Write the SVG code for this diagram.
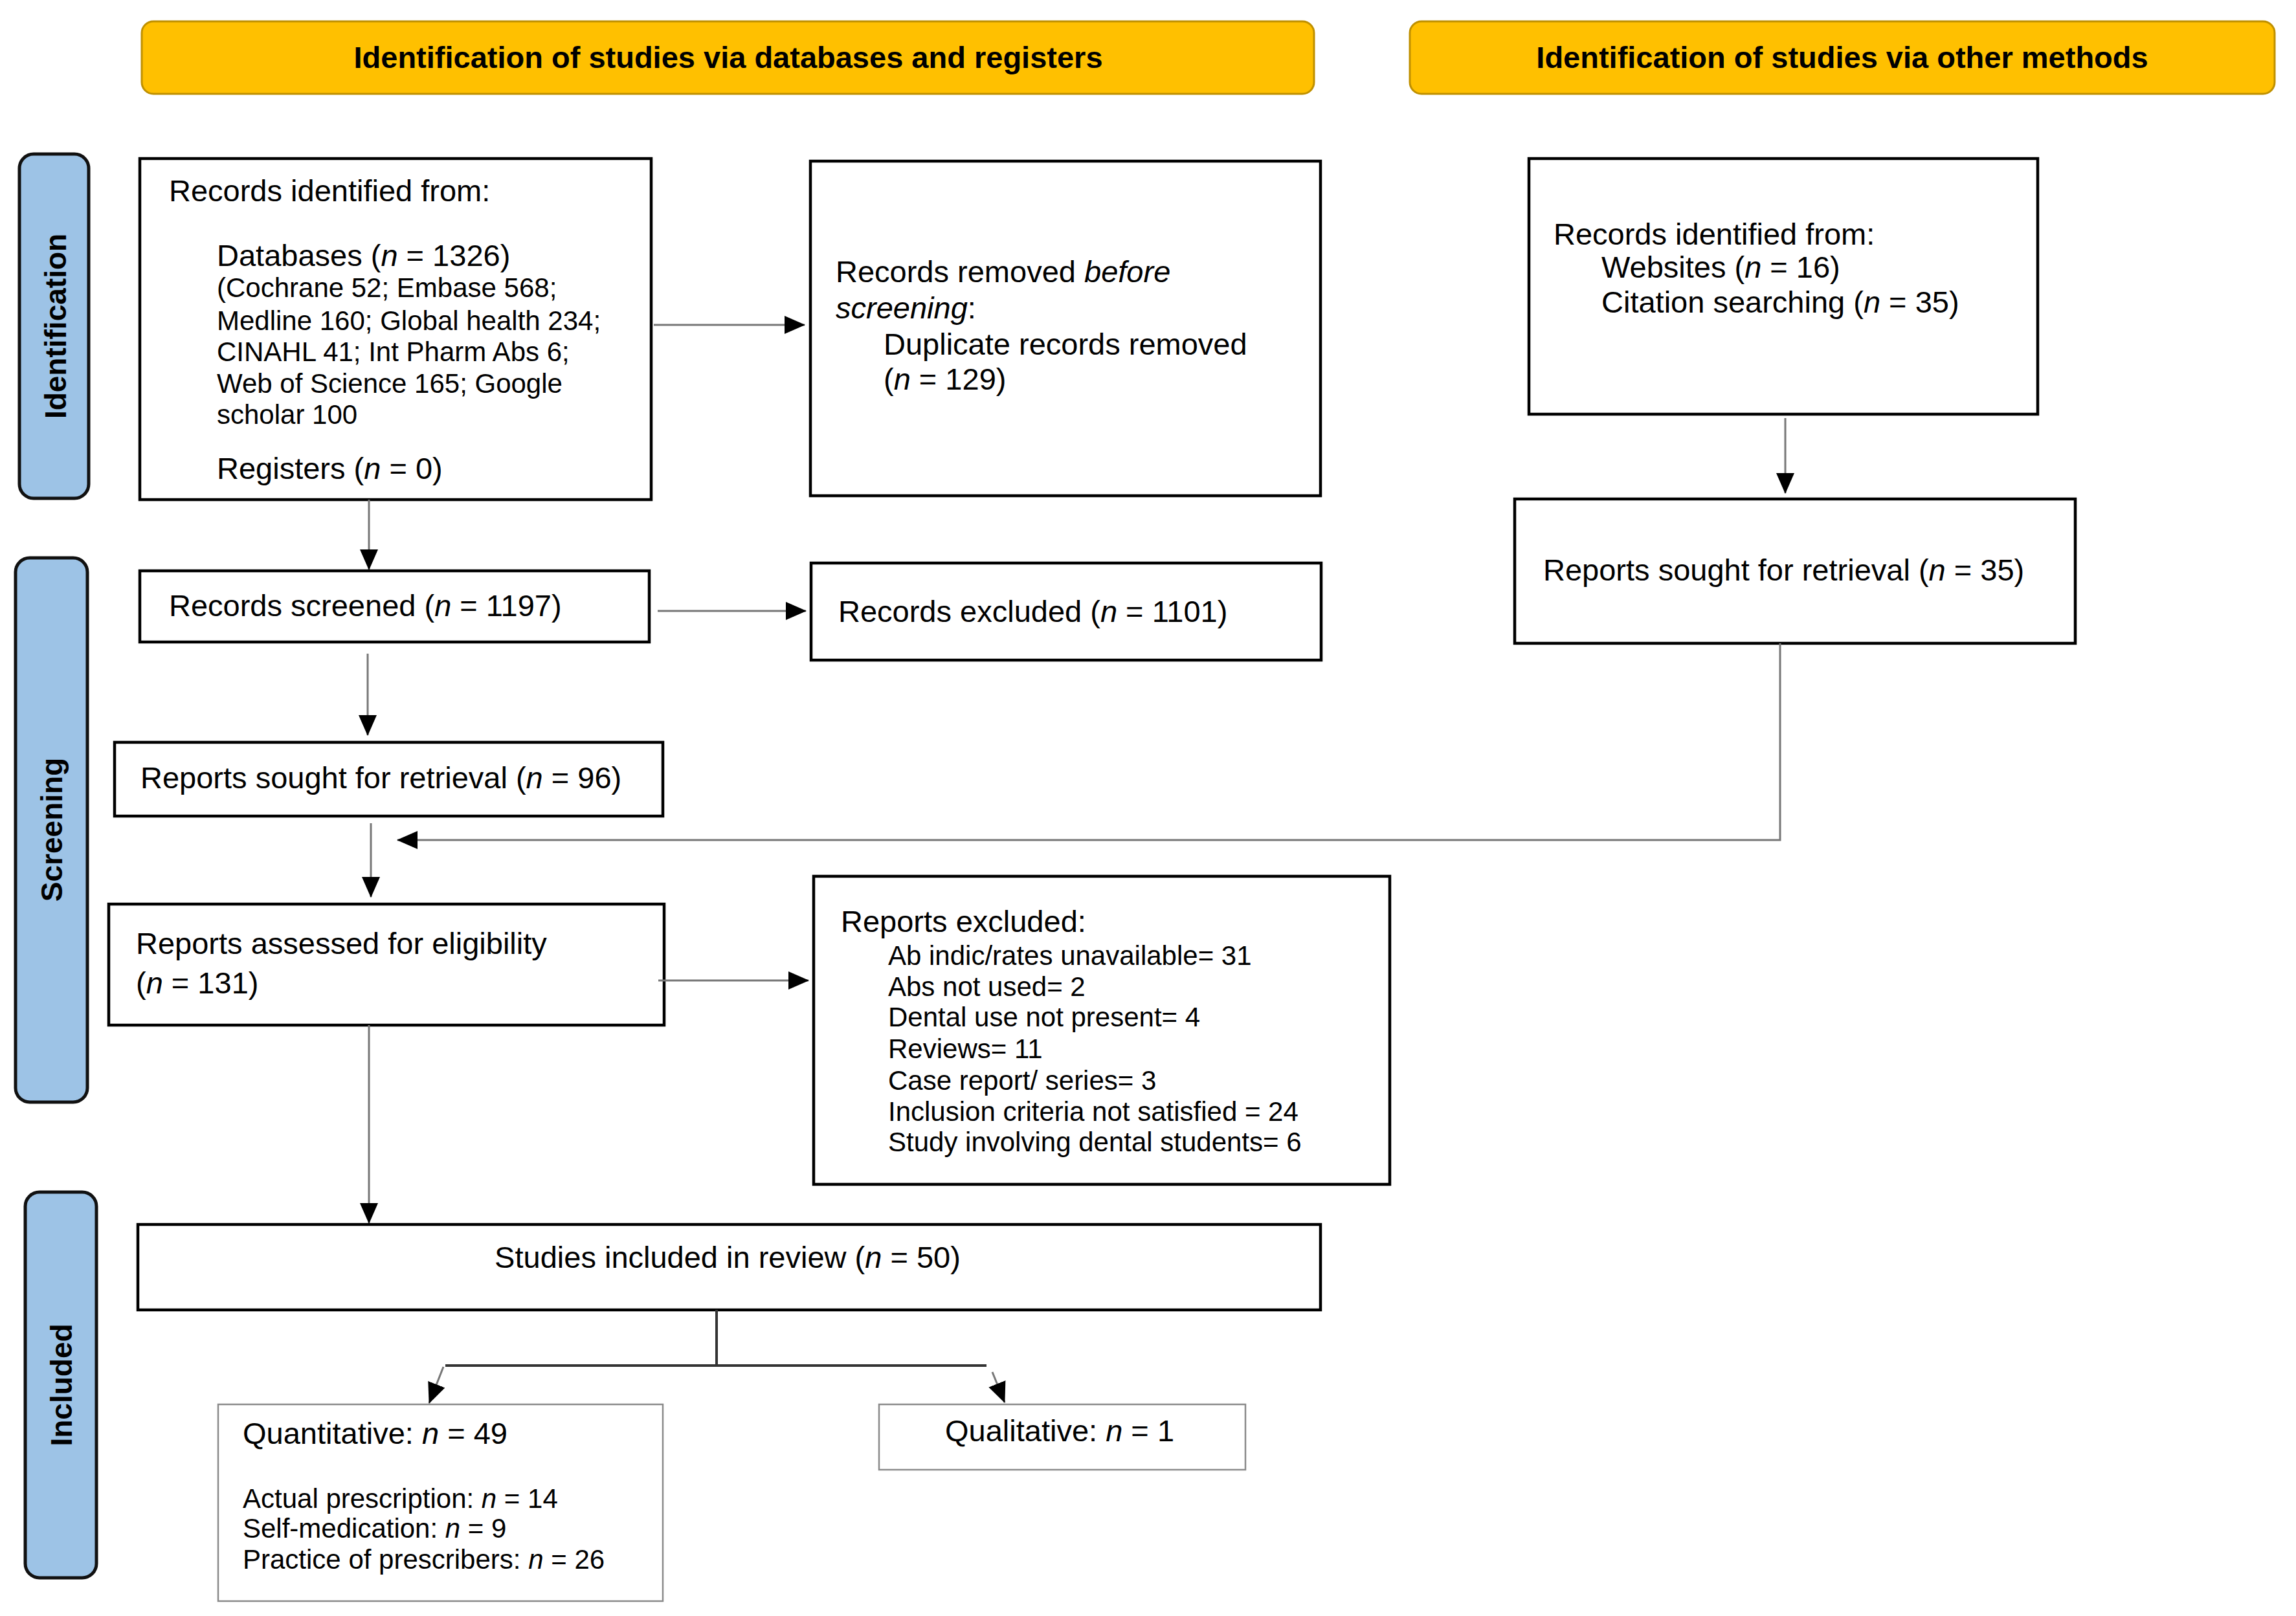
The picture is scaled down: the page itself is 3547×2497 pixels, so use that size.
<svg xmlns="http://www.w3.org/2000/svg" width="3547" height="2497" viewBox="0 0 3547 2497">
<defs>
<marker id="ah" markerUnits="userSpaceOnUse" markerWidth="32" markerHeight="28" refX="31" refY="14" orient="auto">
<path d="M0,0 L32,14 L0,28 Z" fill="#000"/>
</marker>
<style>
text{font-family:"Liberation Sans",Arial,Helvetica,sans-serif;fill:#000}
.t47{font-size:47px}
.t42{font-size:42px}
.hd{font-size:47px;font-weight:bold;text-anchor:middle}
.side{font-size:46px;font-weight:bold;text-anchor:middle}
.i{font-style:italic}
.hdr{fill:#FFC000;stroke:#BF9000;stroke-width:3}
.lab{fill:#9DC3E6;stroke:#111;stroke-width:5}
.box{fill:#fff;stroke:#000;stroke-width:4.5}
.tbox{fill:#fff;stroke:#8a8a8a;stroke-width:2.5}
.con{fill:none;stroke:#777;stroke-width:3}
.br{fill:none;stroke:#333;stroke-width:4}
</style>
</defs>
<rect width="3547" height="2497" fill="#fff"/>

<g id="header-databases">
<rect class="hdr" x="219" y="33" width="1811" height="112" rx="18"/>
<text class="hd" x="1125" y="105">Identification of studies via databases and registers</text>
</g>
<g id="header-other">
<rect class="hdr" x="2178" y="33" width="1336" height="112" rx="18"/>
<text class="hd" x="2846" y="105">Identification of studies via other methods</text>
</g>

<g id="label-identification">
<rect class="lab" x="30" y="238" width="107" height="532" rx="22"/>
<text class="side" transform="translate(102,504) rotate(-90)">Identification</text>
</g>
<g id="label-screening">
<rect class="lab" x="24" y="862" width="111" height="841" rx="22"/>
<text class="side" transform="translate(96,1282) rotate(-90)">Screening</text>
</g>
<g id="label-included">
<rect class="lab" x="39" y="1842" width="110" height="596" rx="22"/>
<text class="side" transform="translate(111,2140) rotate(-90)">Included</text>
</g>

<g id="records-identified">
<rect class="box" x="216" y="245" width="790" height="527"/>
<text class="t47" x="261" y="311">Records identified from:</text>
<text class="t47" x="335" y="411">Databases (<tspan class="i">n</tspan> = 1326)</text>
<text class="t42" x="335" y="459">(Cochrane 52; Embase 568;</text>
<text class="t42" x="335" y="510">Medline 160; Global health 234;</text>
<text class="t42" x="335" y="558">CINAHL 41; Int Pharm Abs 6;</text>
<text class="t42" x="335" y="607">Web of Science 165; Google</text>
<text class="t42" x="335" y="655">scholar 100</text>
<text class="t47" x="335" y="740">Registers (<tspan class="i">n</tspan> = 0)</text>
</g>

<g id="records-removed">
<rect class="box" x="1252" y="249" width="788" height="517"/>
<text class="t47" x="1291" y="436">Records removed <tspan class="i">before</tspan></text>
<text class="t47" x="1291" y="492"><tspan class="i">screening</tspan>:</text>
<text class="t47" x="1365" y="548">Duplicate records removed</text>
<text class="t47" x="1365" y="602">(<tspan class="i">n</tspan> = 129)</text>
</g>

<g id="records-other">
<rect class="box" x="2362" y="245" width="786" height="395"/>
<text class="t47" x="2400" y="378">Records identified from:</text>
<text class="t47" x="2474" y="429">Websites (<tspan class="i">n</tspan> = 16)</text>
<text class="t47" x="2474" y="483">Citation searching (<tspan class="i">n</tspan> = 35)</text>
</g>

<g id="reports-sought-other">
<rect class="box" x="2340" y="771" width="866" height="223"/>
<text class="t47" x="2384" y="897">Reports sought for retrieval (<tspan class="i">n</tspan> = 35)</text>
</g>

<g id="records-screened">
<rect class="box" x="216" y="882" width="787" height="110"/>
<text class="t47" x="261" y="952">Records screened (<tspan class="i">n</tspan> = 1197)</text>
</g>

<g id="records-excluded">
<rect class="box" x="1253" y="870" width="788" height="150"/>
<text class="t47" x="1295" y="961">Records excluded (<tspan class="i">n</tspan> = 1101)</text>
</g>

<g id="reports-sought">
<rect class="box" x="177" y="1147" width="847" height="114"/>
<text class="t47" x="217" y="1218">Reports sought for retrieval (<tspan class="i">n</tspan> = 96)</text>
</g>

<g id="reports-assessed">
<rect class="box" x="168" y="1397" width="858" height="187"/>
<text class="t47" x="210" y="1474">Reports assessed for eligibility</text>
<text class="t47" x="210" y="1535">(<tspan class="i">n</tspan> = 131)</text>
</g>

<g id="reports-excluded">
<rect class="box" x="1257" y="1354" width="890" height="476"/>
<text class="t47" x="1299" y="1440">Reports excluded:</text>
<text class="t42" x="1372" y="1491">Ab indic/rates unavailable= 31</text>
<text class="t42" x="1372" y="1539">Abs not used= 2</text>
<text class="t42" x="1372" y="1586">Dental use not present= 4</text>
<text class="t42" x="1372" y="1635">Reviews= 11</text>
<text class="t42" x="1372" y="1684">Case report/ series= 3</text>
<text class="t42" x="1372" y="1732">Inclusion criteria not satisfied = 24</text>
<text class="t42" x="1372" y="1779">Study involving dental students= 6</text>
</g>

<g id="studies-included">
<rect class="box" x="213" y="1892" width="1827" height="132"/>
<text class="t47" x="1124" y="1959" text-anchor="middle">Studies included in review (<tspan class="i">n</tspan> = 50)</text>
</g>

<g id="quantitative">
<rect class="tbox" x="337" y="2170" width="687" height="304"/>
<text class="t47" x="375" y="2231">Quantitative: <tspan class="i">n</tspan> = 49</text>
<text class="t42" x="375" y="2330">Actual prescription: <tspan class="i">n</tspan> = 14</text>
<text class="t42" x="375" y="2376">Self-medication: <tspan class="i">n</tspan> = 9</text>
<text class="t42" x="375" y="2424">Practice of prescribers: <tspan class="i">n</tspan> = 26</text>
</g>

<g id="qualitative">
<rect class="tbox" x="1358" y="2170" width="566" height="101"/>
<text class="t47" x="1637" y="2227" text-anchor="middle">Qualitative: <tspan class="i">n</tspan> = 1</text>
</g>

<g id="connectors">
<path class="con" d="M1010,502 H1243" marker-end="url(#ah)"/>
<path class="con" d="M570,772 V880" marker-end="url(#ah)"/>
<path class="con" d="M1016,944 H1245" marker-end="url(#ah)"/>
<path class="con" d="M568,1010 V1136" marker-end="url(#ah)"/>
<path class="con" d="M573,1272 V1386" marker-end="url(#ah)"/>
<path class="con" d="M1017,1515 H1249" marker-end="url(#ah)"/>
<path class="con" d="M2758,646 V762" marker-end="url(#ah)"/>
<path class="con" d="M2750,994 V1298 H614" marker-end="url(#ah)"/>
<path class="con" d="M570,1584 V1890" marker-end="url(#ah)"/>
<path class="br" d="M1107,2024 V2110"/>
<path class="br" d="M688,2110 H1524"/>
<path class="con" d="M685,2112 L663,2168" marker-end="url(#ah)"/>
<path class="con" d="M1533,2120 L1552,2167" marker-end="url(#ah)"/>
</g>
</svg>
